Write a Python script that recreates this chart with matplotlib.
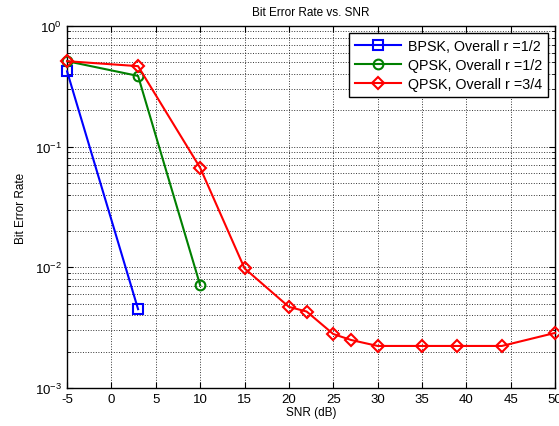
import matplotlib.pyplot as plt
from matplotlib.ticker import LogLocator, NullFormatter

plt.rcParams["font.family"] = ["Liberation Sans", "DejaVu Sans"]
plt.rcParams["axes.unicode_minus"] = False

# Adatok
snr_bpsk = [-5, 3]
ber_bpsk = [0.42, 0.0045]

snr_qpsk_12 = [-5, 3, 10]
ber_qpsk_12 = [0.51, 0.385, 0.0071]

snr_qpsk_34 = [-5, 3, 10, 15, 20, 22, 25, 27, 30, 35, 39, 44, 50]
ber_qpsk_34 = [0.51, 0.464, 0.0667, 0.0098, 0.0047, 0.0043, 0.0028,
               0.0025, 0.00223, 0.00223, 0.00223, 0.00223, 0.00286]

labels = ["BPSK, Overall r =1/2", "QPSK, Overall r =1/2", "QPSK, Overall r =3/4"]

fig = plt.figure(figsize=(5.59, 4.27), dpi=100)
ax = fig.add_axes([0.12, 0.089, 0.873, 0.848])

style = dict(linewidth=1.5, markersize=7, markerfacecolor="none",
             markeredgewidth=1.5, clip_on=False, zorder=3)
ax.semilogy(snr_bpsk, ber_bpsk, "s-", color=(0, 0, 1), label=labels[0], **style)
ax.semilogy(snr_qpsk_12, ber_qpsk_12, "o-", color=(0, 0.5, 0), label=labels[1], **style)
ax.semilogy(snr_qpsk_34, ber_qpsk_34, "D-", color=(1, 0, 0), label=labels[2],
            **dict(style, markersize=6.5))

ax.set_xlim(-5, 50)
ax.set_ylim(1e-3, 1e0)
ax.set_xticks(range(-5, 51, 5))
ax.yaxis.set_minor_locator(LogLocator(base=10, subs=range(2, 10)))
ax.yaxis.set_minor_formatter(NullFormatter())

ax.grid(True, which="major", linestyle=":", color="black", linewidth=0.7, alpha=0.8)
ax.grid(True, which="minor", axis="y", linestyle=":", color="black", linewidth=0.7, alpha=0.8)

ax.tick_params(which="both", direction="in", top=True, right=True, labelsize=9.5)
ax.tick_params(which="major", length=4)
ax.tick_params(which="minor", length=2)
for sp in ax.spines.values():
    sp.set_linewidth(1.0)

ax.set_title("Bit Error Rate vs. SNR", fontsize=8.5, pad=8)
ax.set_xlabel("SNR (dB)", fontsize=8.5, labelpad=1)
ax.set_ylabel("Bit Error Rate", fontsize=8.5, labelpad=6)

leg = ax.legend(loc="upper right", fontsize=10.3, fancybox=False, framealpha=1,
                edgecolor="black", handlelength=3.2, handletextpad=0.5,
                borderaxespad=0.5, labelspacing=0.35)
leg.get_frame().set_linewidth(1.0)

plt.savefig("out.png", dpi=100)
plt.close()
